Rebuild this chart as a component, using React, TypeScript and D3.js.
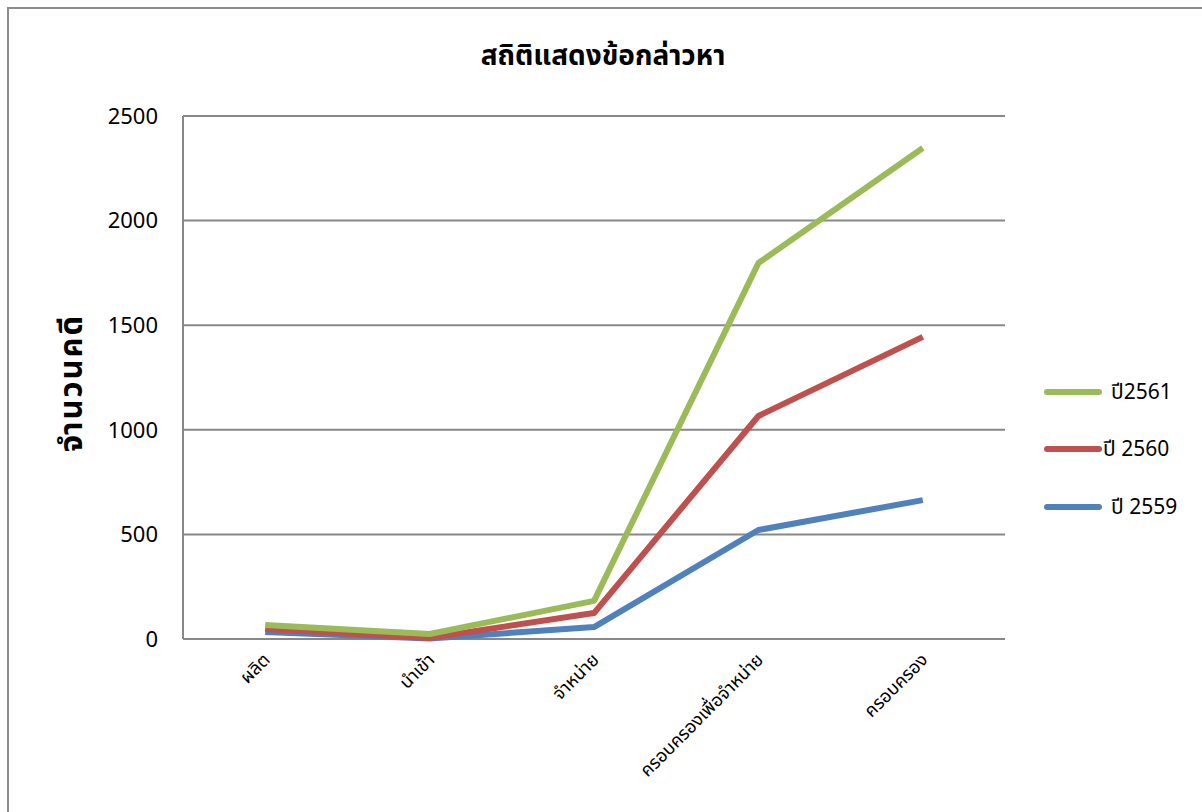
import React from "react";
import * as d3 from "d3";

const categories = ["ผลิต", "นำเข้า", "จำหน่าย", "ครอบครองเพื่อจำหน่าย", "ครอบครอง"];
const values2559 = [33, 2, 57, 521, 664];
const values2560 = [48, 5, 124, 1066, 1444];
const values2561 = [67, 24, 182, 1797, 2347];
const yTicks = [0, 500, 1000, 1500, 2000, 2500];
const seriesNames = ["ปี 2559", "ปี 2560", "ปี2561"];
const seriesColors = ["#4F81BD", "#C0504D", "#9BBB59"];
const title = "สถิติแสดงข้อกล่าวหา";
const yTitle = "จำนวนคดี";

const W = 1202;
const H = 812;
const M = { left: 183, right: 1005, top: 116, bottom: 639 };
const FONT = "Tahoma, 'Noto Sans', 'Noto Sans Thai', 'Liberation Sans', sans-serif";

export default function App() {
  const x = d3.scaleBand<string>().domain(categories).range([M.left, M.right]).padding(0);
  const y = d3.scaleLinear().domain([0, 2500]).range([M.bottom, M.top]);
  const cx = (c: string) => (x(c) as number) + x.bandwidth() / 2;
  const series = [values2559, values2560, values2561];
  const line = d3
    .line<number>()
    .x((_, i) => cx(categories[i]))
    .y((v) => y(v));

  const legendOrder = [2, 1, 0];
  const legendY = [392, 449, 507];
  const legendTextX = [1111, 1103, 1111];

  return (
    <div style={{ position: "absolute", left: 0, top: 0, width: W, height: H, background: "#fff" }}>
      <svg width={W} height={H} style={{ display: "block", fontFamily: FONT }}>
        <rect x={0} y={0} width={W} height={H} fill="#fff" />
        <rect x={8} y={8} width={W + 20} height={H + 20} fill="none" stroke="#8c8c8c" strokeWidth={2} />
        <text x={603} y={65} textAnchor="middle" fontSize={28} fontWeight="bold" fill="#000">
          {title}
        </text>
        <text
          transform={`translate(82,${383}) rotate(-90)`}
          textAnchor="middle"
          fontSize={31}
          fontWeight="bold"
          fill="#000"
          letterSpacing={2}
        >
          {yTitle}
        </text>
        {yTicks.map((t) => (
          <g key={t}>
            <line x1={M.left} x2={M.right} y1={y(t)} y2={y(t)} stroke="#888" strokeWidth={2} />
            <text x={158} y={y(t)} dy="0.35em" textAnchor="end" fontSize={22} fill="#000">
              {t}
            </text>
          </g>
        ))}
        <line x1={M.left} x2={M.left} y1={M.top} y2={M.bottom} stroke="#888" strokeWidth={2} />
        {categories.map((c) => (
          <text
            key={c}
            transform={`translate(${cx(c) + 6},${661}) rotate(-45)`}
            textAnchor="end"
            fontSize={18}
            fill="#000"
          >
            {c}
          </text>
        ))}
        {series.map((s, i) => (
          <path
            key={i}
            d={line(s) || ""}
            fill="none"
            stroke={seriesColors[i]}
            strokeWidth={6}
            strokeLinejoin="round"
            strokeLinecap="butt"
          />
        ))}
        {legendOrder.map((si, k) => (
          <g key={si}>
            <line
              x1={1047}
              x2={1099}
              y1={legendY[k]}
              y2={legendY[k]}
              stroke={seriesColors[si]}
              strokeWidth={6}
              strokeLinecap="round"
            />
            <text x={legendTextX[k]} y={legendY[k]} dy="0.35em" fontSize={21} fill="#000">
              {seriesNames[si]}
            </text>
          </g>
        ))}
      </svg>
    </div>
  );
}
